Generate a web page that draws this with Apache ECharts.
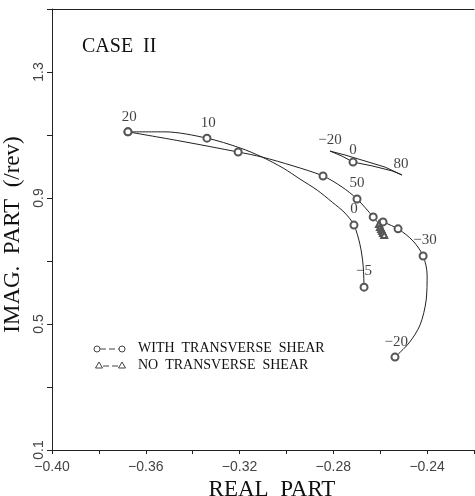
<!DOCTYPE html>
<html><head><meta charset="utf-8">
<script src="https://cdn.jsdelivr.net/npm/echarts@6/dist/echarts.min.js"></script>
<style>html,body{margin:0;padding:0;background:#fff}#c{width:475px;height:496px}</style>
</head><body><div id="c"></div>
<script>
// Tick labels
const xLabels = [-0.40, -0.36, -0.32, -0.28, -0.24];
const yLabels = [0.1, 0.5, 0.9, 1.3];

// WITH TRANSVERSE SHEAR: inner branch (20 -> 10 -> 0 -> -5)
const innerCurve = [[-0.3676,1.110],[-0.3518,1.110],[-0.3339,1.090],[-0.3198,1.059],[-0.3104,1.030],[-0.3014,0.995],[-0.2942,0.960],[-0.2869,0.925],[-0.2805,0.887],[-0.2750,0.852],[-0.2712,0.814],[-0.2686,0.751],[-0.2673,0.687],[-0.2669,0.617]];
const innerMarks = [1,0,1,0,0,0,0,0,0,0,1,0,0,1];

// WITH TRANSVERSE SHEAR: outer branch up to 50
const outerCurve = [[-0.3676,1.110],[-0.3454,1.081],[-0.3206,1.046],[-0.3104,1.030],[-0.2972,1.002],[-0.2844,0.970],[-0.2763,0.935],[-0.2699,0.897],[-0.2630,0.840],[-0.2609,0.8206]];
const outerMarks = [1,0,1,0,0,1,0,1,1,0];

// WITH TRANSVERSE SHEAR: right branch (-30 -> -20)
const rightCurve = [[-0.2588,0.824],[-0.2524,0.802],[-0.2460,0.7635],[-0.2417,0.716],[-0.2400,0.656],[-0.2404,0.576],[-0.2430,0.497],[-0.2477,0.440],[-0.2537,0.395]];
const rightMarks = [1,1,0,1,0,0,0,0,1];

// WITH TRANSVERSE SHEAR: small loop (-20 -> 0 -> 80)
const loopCurve = [[-0.2814,1.049],[-0.2763,1.033],[-0.2716,1.014],[-0.2635,1.002],[-0.2549,0.986],[-0.2507,0.973],[-0.2579,0.998],[-0.2665,1.0175],[-0.2750,1.0365],[-0.2814,1.049]];
const loopMarks = [0,0,1,0,0,0,0,0,0,0];

// NO TRANSVERSE SHEAR cluster
const noShear = [[-0.2605,0.8175],[-0.2601,0.808],[-0.2596,0.8016],[-0.2592,0.7952],[-0.2588,0.7889],[-0.2583,0.7825]];

// Parameter annotations
const annTexts = ['20','10','50','0','\u22125','\u221230','\u221220','\u221220','0','80'];
const annPos = [[-0.3671,1.157],[-0.3334,1.138],[-0.2699,0.9476],[-0.2712,0.865],[-0.2669,0.668],[-0.2409,0.7667],[-0.2532,0.4429],[-0.2814,1.084],[-0.2716,1.052],[-0.2511,1.008]];

const SERIF = '"Liberation Serif","DejaVu Serif",serif';
const SANS = '"Liberation Sans","DejaVu Sans",sans-serif';

function build(pts, marks){
  return pts.map((p,i)=>({value:p, symbol: marks[i] ? 'emptyCircle' : 'none'}));
}
const lineStyle = {color:'#222', width:1};
const itemStyle = {color:'#555', borderColor:'#555', borderWidth:1};

const chart = echarts.init(document.getElementById('c'), null, {renderer:'canvas'});
chart.setOption({
  backgroundColor:'#fff',
  animation:false,
  grid:{left:52, right:1, top:9, bottom:46, containLabel:false, outerBoundsMode:'none'},
  xAxis:[{
    type:'value', min:-0.40, max:-0.22, interval:0.02,
    axisLine:{show:true, onZero:false, lineStyle:{color:'#222', width:1}},
    axisTick:{show:true, inside:false, length:4, lineStyle:{color:'#222'}},
    axisLabel:{margin:10, color:'#444', fontFamily:SANS, fontSize:14, hideOverlap:false,
      formatter:v=> xLabels.some(l=>Math.abs(l-v)<1e-6) ? '\u2212'+Math.abs(v).toFixed(2) : ''},
    splitLine:{show:false},
    name:'REAL  PART', nameLocation:'middle', nameGap:25,
    nameTextStyle:{fontFamily:SERIF, fontSize:23, color:'#111', padding:[0,0,0,18]}
  },{
    type:'value', position:'top', min:-0.40, max:-0.22,
    axisLine:{show:true, onZero:false, lineStyle:{color:'#222', width:1}},
    axisTick:{show:false}, axisLabel:{show:false}, splitLine:{show:false}
  }],
  yAxis:{
    type:'value', min:0.1, max:1.5, interval:0.2,
    axisLine:{show:true, onZero:false, lineStyle:{color:'#222', width:1}},
    axisTick:{show:true, inside:false, length:5, lineStyle:{color:'#222'}},
    axisLabel:{rotate:90, margin:6, color:'#444', fontFamily:SANS, fontSize:14, hideOverlap:false,
      formatter:v=> yLabels.some(l=>Math.abs(l-v)<1e-6) ? v.toFixed(1) : ''},
    splitLine:{show:false},
    name:'IMAG.  PART  (/rev)', nameLocation:'middle', nameGap:24, nameRotate:90,
    nameTextStyle:{fontFamily:SERIF, fontSize:23, color:'#111', padding:[0,10,0,0]}
  },
  series:[
    {type:'line', data:build(innerCurve, innerMarks), smooth:0.3, symbolSize:7, lineStyle, itemStyle, z:3},
    {type:'line', data:build(outerCurve, outerMarks), smooth:0.3, symbolSize:7, lineStyle, itemStyle, z:3},
    {type:'line', data:build(rightCurve, rightMarks), smooth:0.3, symbolSize:7, lineStyle, itemStyle, z:3},
    {type:'line', data:build(loopCurve, loopMarks), smooth:false, symbolSize:7, lineStyle, itemStyle, z:3},
    {type:'line', data:noShear, symbol:'emptyTriangle', symbolSize:6, lineStyle, itemStyle, z:4},
    {type:'scatter', data:annPos.map((p,i)=>({value:p, name:annTexts[i]})), symbol:'circle', symbolSize:2,
      itemStyle:{color:'rgba(0,0,0,0)'},
      label:{show:true, position:'inside', formatter:p=>p.name, fontFamily:SERIF, fontSize:15, color:'#111'}, z:5}
  ],
  graphic:[
    {type:'text', left:82, top:37, style:{text:'CASE  II', font:'20px '+SERIF, fill:'#111'}},
    {type:'circle', shape:{cx:97, cy:349, r:3}, style:{fill:'#fff', stroke:'#444', lineWidth:1}},
    {type:'line', shape:{x1:100, y1:349, x2:119, y2:349}, style:{stroke:'#444', lineWidth:1, lineDash:[6,3]}},
    {type:'circle', shape:{cx:122, cy:349, r:3}, style:{fill:'#fff', stroke:'#444', lineWidth:1}},
    {type:'text', left:138, top:341, style:{text:'WITH  TRANSVERSE  SHEAR', font:'14px '+SERIF, fill:'#111'}},
    {type:'polygon', shape:{points:[[99,362],[95.5,368],[102.5,368]]}, style:{fill:'#fff', stroke:'#444', lineWidth:1}},
    {type:'line', shape:{x1:103, y1:366, x2:119, y2:366}, style:{stroke:'#444', lineWidth:1, lineDash:[6,3]}},
    {type:'polygon', shape:{points:[[122,362],[118.5,368],[125.5,368]]}, style:{fill:'#fff', stroke:'#444', lineWidth:1}},
    {type:'text', left:138, top:358, style:{text:'NO  TRANSVERSE  SHEAR', font:'14px '+SERIF, fill:'#111'}}
  ]
});
</script></body></html>
